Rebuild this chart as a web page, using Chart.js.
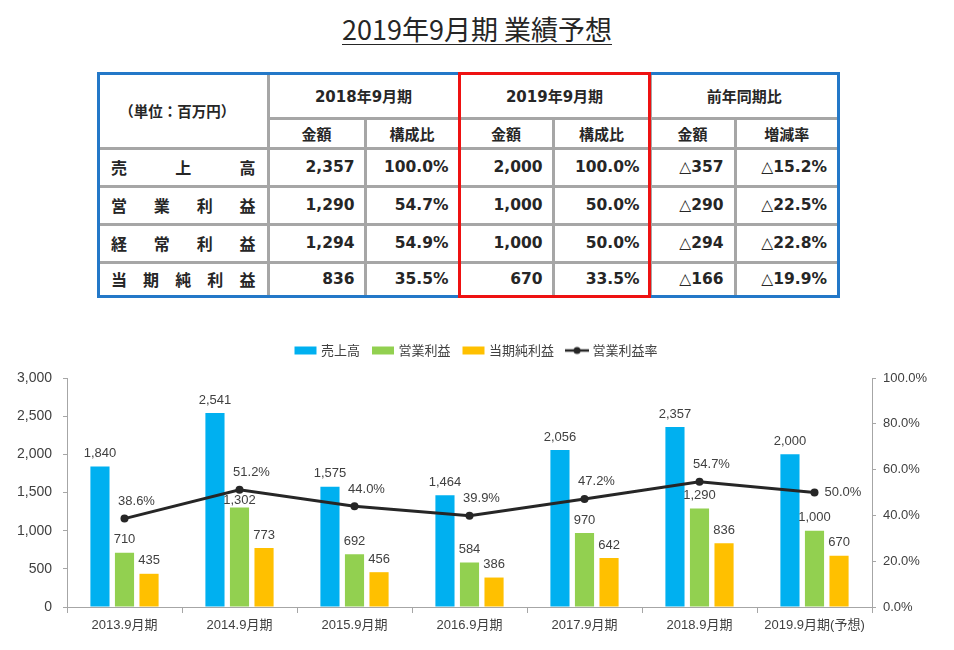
<!DOCTYPE html>
<html><head><meta charset="utf-8">
<script src="https://cdn.jsdelivr.net/npm/chart.js@4.4.1/dist/chart.umd.min.js"></script>
<style>
html,body{margin:0;padding:0;background:#fff;}
body{width:954px;height:650px;position:relative;overflow:hidden;}
#title{position:absolute;left:0;top:11px;width:954px;text-align:center;font-family:"Noto Sans CJK JP",sans-serif;font-size:27px;line-height:36px;color:#262626;}
#title span{text-decoration:underline;text-decoration-thickness:1px;text-underline-offset:4px;}
#tbl{position:absolute;left:100px;top:75px;width:737px;height:220px;border-collapse:collapse;table-layout:fixed;
  font-family:"DejaVu Sans","Noto Sans CJK JP",sans-serif;font-weight:bold;color:#262626;}
#tbl td{border:3px solid #a6a6a6;padding:0;white-space:nowrap;overflow:hidden;}
#tbl tr:first-child td{border-top:none;}
#tbl tr:last-child td{border-bottom:none;}
#tbl tr td:last-child{border-right:none;}
#tbl td.first{border-left:none;}
#tbl td.h{text-align:center;font-size:15px;}
#tbl td.u{text-align:center;font-size:14.5px;font-family:"Noto Sans CJK JP",sans-serif;padding-right:12px;}
#tbl td.n{text-align:right;font-size:15.5px;padding-right:9px;}
#tbl td.d{text-align:right;font-size:15.5px;padding-right:10px;}
#tbl td.d .tri{font-weight:normal;}
#tbl td.l{font-family:"Noto Sans CJK JP",sans-serif;font-size:16px;}
#tbl td.l div{display:flex;justify-content:space-between;padding:0 11px 0 11px;}
#blue{position:absolute;left:97px;top:72px;width:743px;height:226px;box-sizing:border-box;border:3px solid #2378c8;}
#red{position:absolute;left:458px;top:72px;width:193px;height:226px;box-sizing:border-box;border:3px solid #ee1111;}
#chartbox{position:absolute;left:0;top:330px;width:954px;height:320px;}
</style></head>
<body>
<div id="title"><span>2019年9月期 業績予想</span></div>
<table id="tbl">
<colgroup><col style="width:168px"><col style="width:97px"><col style="width:94px"><col style="width:94px"><col style="width:97px"><col style="width:85px"><col style="width:102px"></colgroup>
<tr style="height:43px"><td rowspan="2" class="u first">（単位：百万円）</td><td colspan="2" class="h">2018年9月期</td><td colspan="2" class="h">2019年9月期</td><td colspan="2" class="h">前年同期比</td></tr>
<tr style="height:30px"><td class="h">金額</td><td class="h">構成比</td><td class="h">金額</td><td class="h">構成比</td><td class="h">金額</td><td class="h">増減率</td></tr>
<tr style="height:38px"><td class="l first"><div><span>売</span><span>上</span><span>高</span></div></td><td class="n">2,357</td><td class="n">100.0%</td><td class="n">2,000</td><td class="n">100.0%</td><td class="d"><span class="tri">△</span>357</td><td class="d"><span class="tri">△</span>15.2%</td></tr>
<tr style="height:38px"><td class="l first"><div><span>営</span><span>業</span><span>利</span><span>益</span></div></td><td class="n">1,290</td><td class="n">54.7%</td><td class="n">1,000</td><td class="n">50.0%</td><td class="d"><span class="tri">△</span>290</td><td class="d"><span class="tri">△</span>22.5%</td></tr>
<tr style="height:38px"><td class="l first"><div><span>経</span><span>常</span><span>利</span><span>益</span></div></td><td class="n">1,294</td><td class="n">54.9%</td><td class="n">1,000</td><td class="n">50.0%</td><td class="d"><span class="tri">△</span>294</td><td class="d"><span class="tri">△</span>22.8%</td></tr>
<tr style="height:33px"><td class="l first"><div><span>当</span><span>期</span><span>純</span><span>利</span><span>益</span></div></td><td class="n">836</td><td class="n">35.5%</td><td class="n">670</td><td class="n">33.5%</td><td class="d"><span class="tri">△</span>166</td><td class="d"><span class="tri">△</span>19.9%</td></tr>
</table>
<div id="blue"></div>
<div id="red"></div>
<div id="chartbox"><canvas id="c"></canvas></div>
<script>
const categories = ['2013.9月期','2014.9月期','2015.9月期','2016.9月期','2017.9月期','2018.9月期','2019.9月期(予想)'];
const sales = [1840, 2541, 1575, 1464, 2056, 2357, 2000];
const operatingProfit = [710, 1302, 692, 584, 970, 1290, 1000];
const netIncome = [435, 773, 456, 386, 642, 836, 670];
const operatingMargin = [38.6, 51.2, 44.0, 39.9, 47.2, 54.7, 50.0];
const seriesNames = ['売上高', '営業利益', '当期純利益', '営業利益率'];
const seriesColors = ['#00B0F0', '#92D050', '#FFC000', '#262626'];

const FONT = '"Liberation Sans", Arial, "Noto Sans CJK JP", sans-serif';
const TXT = '#404040';
const AXIS = '#a6a6a6';

function swatch(color, kind){
  const c = document.createElement('canvas'); c.width = 24; c.height = 10;
  const g = c.getContext('2d');
  if (kind === 'bar') { g.fillStyle = color; g.fillRect(1, 1, 22, 8); }
  else {
    g.strokeStyle = color; g.lineWidth = 2.5;
    g.beginPath(); g.moveTo(0, 5); g.lineTo(24, 5); g.stroke();
    g.fillStyle = color; g.beginPath(); g.arc(12, 5, 3.5, 0, Math.PI * 2); g.fill();
  }
  return c;
}

const legendHeight = {
  id: 'legendHeight',
  beforeInit(chart){
    const orig = chart.legend.fit;
    chart.legend.fit = function(){ orig.call(this); this.height = 48; };
  }
};

function lineYAt(points, x){
  for (let k = 0; k < points.length - 1; k++) {
    const a = points[k], b = points[k + 1];
    if (x >= a.x && x <= b.x) return a.y + (b.y - a.y) * (x - a.x) / (b.x - a.x);
  }
  return null;
}

const valueLabels = {
  id: 'valueLabels',
  afterDatasetsDraw(chart){
    const ctx = chart.ctx; ctx.save();
    ctx.fillStyle = TXT; ctx.font = '13px ' + FONT;
    const lineIdx = chart.data.datasets.findIndex(d => d.type === 'line');
    const linePts = lineIdx >= 0 ? chart.getDatasetMeta(lineIdx).data : [];
    chart.data.datasets.forEach((ds, i) => {
      const meta = chart.getDatasetMeta(i);
      meta.data.forEach((el, j) => {
        const v = ds.data[j];
        if (ds.type === 'line') {
          const txt = v.toFixed(1) + '%';
          ctx.textBaseline = 'middle';
          if (j === ds.data.length - 1) { ctx.textAlign = 'left'; ctx.fillText(txt, el.x + 10, el.y); }
          else { ctx.textAlign = 'center'; ctx.fillText(txt, el.x + 12, el.y - 17); }
        } else {
          let y = el.y - 13;
          const ly = lineYAt(linePts, el.x);
          if (ly !== null && Math.abs(y - ly) < 9) y = ly + 11;
          ctx.textAlign = 'center'; ctx.textBaseline = 'middle';
          ctx.fillText(v.toLocaleString('en-US'), el.x, y);
        }
      });
    });
    ctx.restore();
  }
};

new Chart(document.getElementById('c'), {
  type: 'bar',
  data: {
    labels: categories,
    datasets: [
      { label: seriesNames[0], data: sales, backgroundColor: seriesColors[0], yAxisID: 'y', order: 1, categoryPercentage: 0.64, barPercentage: 0.78 },
      { label: seriesNames[1], data: operatingProfit, backgroundColor: seriesColors[1], yAxisID: 'y', order: 1, categoryPercentage: 0.64, barPercentage: 0.78 },
      { label: seriesNames[2], data: netIncome, backgroundColor: seriesColors[2], yAxisID: 'y', order: 1, categoryPercentage: 0.64, barPercentage: 0.78 },
      { type: 'line', label: seriesNames[3], data: operatingMargin, yAxisID: 'y1', order: 0,
        borderColor: seriesColors[3], borderWidth: 3, pointRadius: 4, pointBackgroundColor: seriesColors[3], pointBorderWidth: 0, tension: 0, fill: false }
    ]
  },
  options: {
    responsive: true, maintainAspectRatio: false, animation: false, devicePixelRatio: 1,
    layout: { padding: 0 },
    plugins: {
      tooltip: { enabled: false },
      legend: {
        position: 'top',
        labels: {
          usePointStyle: true, pointStyleWidth: 18, padding: 14, color: TXT,
          font: { size: 13, family: '"Noto Sans CJK JP", sans-serif' },
          generateLabels(chart){
            return chart.data.datasets.map((ds, i) => ({
              text: ds.label, datasetIndex: i, hidden: false, lineWidth: 0,
              fontColor: TXT,
              pointStyle: swatch(seriesColors[i], ds.type === 'line' ? 'line' : 'bar')
            }));
          }
        }
      }
    },
    scales: {
      x: {
        offset: true,
        grid: { display: true, drawOnChartArea: false, drawTicks: true, tickLength: 6, color: AXIS, offset: true },
        border: { display: true, color: AXIS },
        ticks: { color: TXT, font: { size: 13, family: FONT }, padding: 5, maxRotation: 0, autoSkip: false },
        afterFit(s){ s.height = 43; }
      },
      y: {
        position: 'left', min: 0, max: 3000,
        grid: { drawOnChartArea: false, drawTicks: true, tickLength: 4, color: AXIS },
        border: { display: true, color: AXIS },
        ticks: { stepSize: 500, color: TXT, font: { size: 14, family: FONT }, padding: 11, callback: v => v.toLocaleString('en-US') },
        afterFit(s){ s.width = 67; }
      },
      y1: {
        position: 'right', min: 0, max: 100,
        grid: { drawOnChartArea: false, drawTicks: true, tickLength: 4, color: AXIS },
        border: { display: true, color: AXIS },
        ticks: { stepSize: 20, color: TXT, font: { size: 13, family: FONT }, padding: 7, callback: v => v.toFixed(1) + '%' },
        afterFit(s){ s.width = 82; }
      }
    }
  },
  plugins: [legendHeight, valueLabels]
});
</script>
</body></html>
